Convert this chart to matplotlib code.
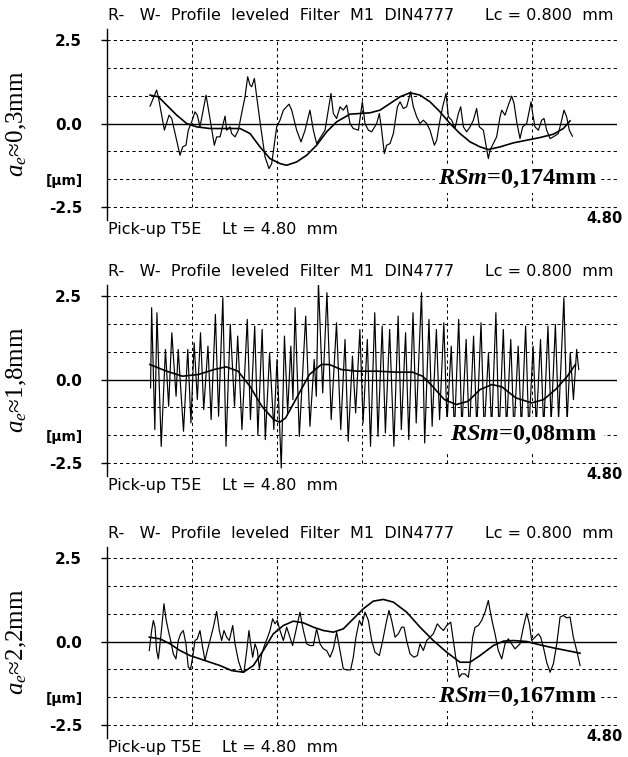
import numpy as np
import matplotlib
matplotlib.use('Agg')
import matplotlib.pyplot as plt

plt.rcParams['mathtext.fontset'] = 'custom'
plt.rcParams['mathtext.rm'] = 'Liberation Serif'
plt.rcParams['mathtext.it'] = 'Liberation Serif:italic'
plt.rcParams['mathtext.bf'] = 'Liberation Serif:bold'
plt.rcParams['mathtext.bfit'] = 'Liberation Serif:italic:bold'

# ---- panel 1 (ae ~ 0.3 mm) : profile and waviness, x in mm, y in um
p1_x = [0.405, 0.467, 0.483, 0.540, 0.584, 0.609, 0.687, 0.712, 0.743, 0.765,
        0.797, 0.828, 0.850, 0.875, 0.932, 0.969, 1.010, 1.032, 1.064, 1.111,
        1.126, 1.158, 1.173, 1.205, 1.236, 1.267, 1.299, 1.324, 1.346, 1.362,
        1.387, 1.409, 1.440, 1.487, 1.525, 1.550, 1.597, 1.628, 1.660, 1.713,
        1.738, 1.785, 1.826, 1.864, 1.910, 1.942, 1.973, 2.052, 2.108, 2.130,
        2.161, 2.193, 2.224, 2.256, 2.287, 2.318, 2.366, 2.403, 2.428, 2.460,
        2.491, 2.538, 2.563, 2.585, 2.610, 2.632, 2.664, 2.695, 2.733, 2.758,
        2.789, 2.820, 2.858, 2.883, 2.915, 2.946, 2.977, 3.009, 3.040, 3.081,
        3.103, 3.134, 3.159, 3.191, 3.213, 3.244, 3.275, 3.307, 3.329, 3.354,
        3.385, 3.417, 3.448, 3.479, 3.504, 3.542, 3.567, 3.589, 3.605, 3.636,
        3.667, 3.699, 3.715, 3.746, 3.777, 3.809, 3.831, 3.856, 3.887, 3.912,
        3.950, 3.991, 4.006, 4.028, 4.060, 4.091, 4.113, 4.138, 4.170, 4.201,
        4.248, 4.279, 4.301, 4.326, 4.351, 4.380]
p1_y = [0.52, 1.0, 0.8, -0.2, 0.25, 0.15, -0.95, -0.7, -0.65, -0.2,
        0.05, 0.35, 0.25, -0.1, 0.85, 0.15, -0.65, -0.4, -0.4, 0.22,
        -0.2, -0.1, -0.3, -0.4, -0.2, 0.3, 0.8, 1.4, 1.15, 1.1,
        1.35, 0.8, 0.05, -1.0, -1.35, -1.2, -0.1, 0.1, 0.4, 0.58,
        0.4, -0.2, -0.55, -0.2, 0.4, -0.2, -0.6, -0.2, 0.9, 0.3,
        0.15, 0.5, 0.4, 0.55, 0.0, -0.15, -0.2, 0.65, 0.0, -0.2,
        -0.25, 0.0, 0.3, -0.2, -0.9, -0.65, -0.6, -0.3, 0.5, 0.65,
        0.45, 0.5, 0.95, 0.5, 0.2, 0.0, 0.1, 0.0, -0.2, -0.65,
        -0.5, 0.1, 0.5, 0.9, 0.2, 0.1, -0.15, 0.3, 0.5, -0.1,
        -0.25, -0.1, 0.1, 0.45, -0.1, -0.2, -0.65, -1.05, -0.8, -0.6,
        -0.4, 0.2, 0.4, 0.25, 0.55, 0.82, 0.6, 0.05, -0.45, -0.1,
        0.0, 0.65, 0.3, -0.1, -0.2, 0.1, 0.15, -0.2, -0.45, -0.4,
        -0.3, 0.1, 0.4, 0.2, -0.2, -0.38]
w1_x = [0.405, 0.483, 0.562, 0.656, 0.750, 0.844, 0.969, 1.126, 1.252, 1.346,
        1.440, 1.534, 1.628, 1.691, 1.785, 1.879, 1.973, 2.067, 2.161, 2.287,
        2.381, 2.475, 2.569, 2.664, 2.758, 2.852, 2.946, 3.040, 3.134, 3.228,
        3.322, 3.417, 3.511, 3.589, 3.699, 3.824, 3.950, 4.075, 4.201, 4.295,
        4.358]
w1_y = [0.85, 0.8, 0.55, 0.25, 0.0, -0.1, -0.15, -0.15, -0.15, -0.3,
        -0.7, -1.05, -1.2, -1.25, -1.15, -0.95, -0.65, -0.25, 0.05, 0.28,
        0.3, 0.32, 0.4, 0.6, 0.8, 0.92, 0.85, 0.65, 0.35, 0.0,
        -0.3, -0.55, -0.7, -0.78, -0.7, -0.58, -0.5, -0.42, -0.32, -0.15,
        0.08]

# ---- panel 2 (ae ~ 1.8 mm)
p2_x = [0.41, 0.42, 0.45, 0.47, 0.51, 0.55, 0.58, 0.61, 0.65, 0.67,
        0.72, 0.76, 0.79, 0.82, 0.85, 0.88, 0.91, 0.95, 0.98, 1.02,
        1.05, 1.09, 1.12, 1.16, 1.20, 1.23, 1.27, 1.32, 1.35, 1.39,
        1.42, 1.46, 1.49, 1.53, 1.57, 1.60, 1.64, 1.67, 1.70, 1.73,
        1.75, 1.77, 1.81, 1.87, 1.91, 1.95, 1.97, 1.99, 2.03, 2.07,
        2.11, 2.16, 2.20, 2.24, 2.27, 2.31, 2.34, 2.38, 2.41, 2.45,
        2.48, 2.52, 2.55, 2.59, 2.62, 2.66, 2.70, 2.74, 2.77, 2.81,
        2.84, 2.88, 2.91, 2.96, 2.99, 3.03, 3.06, 3.10, 3.13, 3.17,
        3.20, 3.24, 3.27, 3.31, 3.34, 3.38, 3.41, 3.45, 3.48, 3.52,
        3.55, 3.59, 3.62, 3.66, 3.69, 3.73, 3.76, 3.80, 3.83, 3.87,
        3.90, 3.94, 3.97, 4.01, 4.04, 4.08, 4.11, 4.15, 4.18, 4.22,
        4.25, 4.30, 4.33, 4.36, 4.39, 4.42, 4.44]
p2_y = [-0.25, 2.15, -1.5, 2.0, -2.0, 0.9, -0.8, 1.4, -0.5, 0.9,
        -1.55, 0.9, -1.3, 1.1, -0.6, 1.4, -0.9, 1.0, -1.2, 1.95,
        -1.1, 2.45, -2.0, 1.65, -0.8, 1.3, -1.5, 1.8, -1.2, 1.6,
        -1.65, 1.5, -1.8, 0.8, -1.5, 0.6, -2.65, 1.3, -1.0, 1.0,
        -0.6, 2.15, -1.7, 1.9, -1.4, 0.6, -0.5, 2.9, -0.4, 2.6,
        -1.2, 1.7, -1.5, 1.2, -1.85, 0.7, -1.0, 1.5, -1.3, 1.2,
        -2.0, 2.0, -1.7, 1.6, -1.6, 1.5, -2.0, 1.9, -1.5, 1.4,
        -1.8, 2.0, -1.3, 2.6, -1.9, 1.8, -1.4, 1.5, -1.2, 1.7,
        -1.3, 1.0, -1.6, 1.8, -1.5, 1.2, -1.7, 1.3, -1.5, 1.7,
        -1.6, 0.8, -1.5, 2.0, -1.7, 1.5, -1.5, 1.2, -1.6, 1.0,
        -1.5, 1.6, -1.6, 1.0, -1.4, 1.2, -1.5, 1.6, -1.3, 1.65,
        -1.2, 2.45, -1.3, 0.8, -0.6, 0.9, 0.3]
w2_x = [0.403, 0.560, 0.710, 0.859, 1.009, 1.121, 1.233, 1.345, 1.457, 1.569,
        1.625, 1.681, 1.793, 1.905, 2.017, 2.092, 2.204, 2.353, 2.540, 2.727,
        2.876, 2.970, 3.063, 3.175, 3.287, 3.399, 3.511, 3.623, 3.717, 3.848,
        3.997, 4.109, 4.221, 4.333, 4.408]
w2_y = [0.45, 0.25, 0.1, 0.15, 0.3, 0.38, 0.25, -0.2, -0.8, -1.2,
        -1.28, -1.15, -0.5, 0.15, 0.45, 0.45, 0.3, 0.25, 0.25, 0.22,
        0.22, 0.1, -0.2, -0.6, -0.75, -0.65, -0.3, -0.15, -0.22, -0.55,
        -0.7, -0.6, -0.3, 0.1, 0.45]

# ---- panel 3 (ae ~ 2.2 mm)
p3_x = [0.398, 0.420, 0.436, 0.452, 0.467, 0.483, 0.499, 0.515, 0.536, 0.555,
        0.577, 0.599, 0.624, 0.649, 0.671, 0.693, 0.718, 0.743, 0.765, 0.787,
        0.806, 0.828, 0.850, 0.875, 0.900, 0.922, 0.944, 0.969, 1.001, 1.032,
        1.057, 1.079, 1.101, 1.126, 1.151, 1.183, 1.205, 1.236, 1.267, 1.289,
        1.315, 1.336, 1.352, 1.371, 1.393, 1.415, 1.434, 1.456, 1.487, 1.512,
        1.534, 1.559, 1.581, 1.603, 1.628, 1.660, 1.691, 1.722, 1.747, 1.785,
        1.816, 1.848, 1.879, 1.910, 1.942, 1.973, 2.005, 2.036, 2.067, 2.099,
        2.130, 2.161, 2.193, 2.224, 2.256, 2.293, 2.318, 2.343, 2.375, 2.397,
        2.428, 2.460, 2.491, 2.522, 2.563, 2.595, 2.632, 2.654, 2.679, 2.711,
        2.742, 2.773, 2.795, 2.820, 2.852, 2.889, 2.921, 2.946, 2.977, 3.009,
        3.040, 3.071, 3.109, 3.134, 3.166, 3.197, 3.235, 3.260, 3.291, 3.316,
        3.338, 3.369, 3.401, 3.417, 3.442, 3.464, 3.495, 3.526, 3.558, 3.589,
        3.605, 3.630, 3.652, 3.683, 3.715, 3.746, 3.777, 3.809, 3.840, 3.887,
        3.919, 3.950, 3.975, 3.997, 4.028, 4.060, 4.082, 4.107, 4.138, 4.170,
        4.201, 4.233, 4.264, 4.295, 4.326, 4.358, 4.389, 4.421, 4.452]
p3_y = [-0.27, 0.33, 0.63, 0.43, -0.27, -0.52, -0.07, 0.43, 1.13, 0.68,
        0.33, 0.03, -0.37, -0.52, 0.03, 0.23, 0.33, -0.07, -0.77, -0.82,
        -0.47, 0.03, 0.08, 0.33, -0.17, -0.57, -0.27, 0.03, 0.43, 0.90,
        0.33, 0.03, 0.33, 0.13, 0.03, 0.48, -0.07, -0.57, -0.87, -0.92,
        -0.27, 0.33, -0.07, -0.47, -0.07, -0.27, -0.82, -0.37, -0.07, 0.13,
        0.33, 0.68, 0.53, 0.63, 0.33, 0.03, 0.43, 0.13, -0.12, 0.43,
        0.88, 0.33, -0.07, -0.12, -0.12, 0.38, -0.07, -0.22, -0.27, -0.47,
        -0.22, 0.28, -0.27, -0.82, -0.85, -0.85, -0.47, 0.13, 0.63, 0.48,
        0.88, 0.63, 0.03, -0.32, -0.42, 0.03, 0.63, 0.93, 0.63, 0.13,
        0.23, 0.43, 0.43, 0.03, -0.37, -0.47, -0.42, -0.07, -0.27, 0.03,
        0.13, 0.23, 0.53, 0.43, 0.33, 0.48, 0.58, 0.03, -0.67, -1.07,
        -0.97, -0.97, -1.07, -0.67, 0.13, 0.43, 0.48, 0.63, 0.88, 1.23,
        0.93, 0.53, 0.23, -0.27, -0.52, -0.07, 0.08, -0.07, -0.22, -0.07,
        0.43, 0.85, 0.53, 0.03, 0.13, 0.23, 0.13, -0.17, -0.62, -0.92,
        -0.67, -0.07, 0.73, 0.78, 0.71, 0.73, 0.13, -0.27, -0.72]
w3_x = [0.398, 0.499, 0.593, 0.687, 0.781, 0.875, 0.969, 1.064, 1.173, 1.283,
        1.377, 1.471, 1.565, 1.660, 1.754, 1.848, 1.942, 2.036, 2.130, 2.224,
        2.318, 2.412, 2.507, 2.601, 2.695, 2.820, 2.946, 3.071, 3.197, 3.322,
        3.417, 3.511, 3.636, 3.730, 3.824, 3.950, 4.075, 4.201, 4.326, 4.452]
w3_y = [0.13, 0.08, -0.07, -0.27, -0.42, -0.52, -0.62, -0.72, -0.87, -0.92,
        -0.72, -0.27, 0.23, 0.48, 0.61, 0.56, 0.43, 0.33, 0.28, 0.38,
        0.68, 0.98, 1.21, 1.26, 1.18, 0.88, 0.43, 0.03, -0.32, -0.62,
        -0.62, -0.42, -0.12, 0.01, 0.03, 0.0, -0.1, -0.19, -0.27, -0.35]

side_labels = [r'$a_e$≈0,3mm', r'$a_e$≈1,8mm', r'$a_e$≈2,2mm']
rsm_values = ['0,174mm', '0,08mm', '0,167mm']
header = 'R-   W-  Profile  leveled  Filter  M1  DIN4777      Lc = 0.800  mm'
footer = 'Pick-up T5E    Lt = 4.80  mm'
x_grid = [0.8, 1.6, 2.4, 3.2, 4.0, 4.8]
y_grid = [2.5, 5 / 3, 5 / 6, -5 / 6, -5 / 3, -2.5]


def draw_panel(ax, rx, ry, wx, wy, side, rsm, pad):
    ax.set_xlim(0, 4.8)
    ax.set_ylim(-2.9, 2.83)
    for s in ['top', 'right', 'bottom']:
        ax.spines[s].set_visible(False)
    ax.spines['left'].set_linewidth(1.0)

    ax.hlines(y_grid, 0, 4.8, colors='k', lw=0.75, linestyles=(0, (3, 3)), zorder=1)
    ax.vlines(x_grid, -2.5, 2.5, colors='k', lw=0.75, linestyles=(0, (3, 3)), zorder=1)
    ax.axhline(0, color='k', lw=1.0, zorder=2)

    ax.plot(rx, ry, 'k-', lw=0.85, zorder=3)
    ax.plot(wx, wy, 'k-', lw=1.2, zorder=3)

    ax.set_xticks([])
    ax.set_yticks([-2.5, 0, 2.5])
    ax.set_yticklabels(['-2.5', '0.0', '2.5'], fontweight='bold', fontsize=11)
    ax.tick_params(axis='y', length=4, width=1, pad=14)

    ax.annotate(header, xy=(0, 2.5), xytext=(1, 18), textcoords='offset points',
                ha='left', va='center', fontsize=11.5, annotation_clip=False)
    ax.annotate(footer, xy=(0, -2.5), xytext=(1, -16.5), textcoords='offset points',
                ha='left', va='center', fontsize=11.5, annotation_clip=False)
    ax.annotate('4.80', xy=(4.8, -2.5), xytext=(4, -8), textcoords='offset points',
                ha='right', va='center', fontsize=10.5, fontweight='bold',
                annotation_clip=False)
    ax.annotate('[µm]', xy=(0, -5 / 3), xytext=(-17, -1.5), textcoords='offset points',
                ha='right', va='center', fontsize=10, fontweight='bold',
                annotation_clip=False)
    ax.annotate(side, xy=(0, 0), xytext=(-65, 0), textcoords='offset points',
                ha='center', va='center', rotation=90, fontsize=18,
                family='Liberation Serif', annotation_clip=False)

    ax.text(4.61, -5 / 3, r'$\mathbfit{RSm}$=' + rsm, ha='right', va='center',
            fontsize=17.5, fontweight='bold', family='Liberation Serif',
            bbox=dict(facecolor='white', edgecolor='none', pad=pad), zorder=5)


fig = plt.figure(figsize=(6.28, 7.57), dpi=100)
bottoms = [0.7089, 0.3707, 0.0246]
axes = [fig.add_axes([0.1704, b, 0.8121, 0.2528]) for b in bottoms]

draw_panel(axes[0], p1_x, p1_y, w1_x, w1_y, side_labels[0], rsm_values[0], 2)
draw_panel(axes[1], p2_x, p2_y, w2_x, w2_y, side_labels[1], rsm_values[1], 5)
draw_panel(axes[2], p3_x, p3_y, w3_x, w3_y, side_labels[2], rsm_values[2], 2)

fig.savefig('out.png', dpi=100)
